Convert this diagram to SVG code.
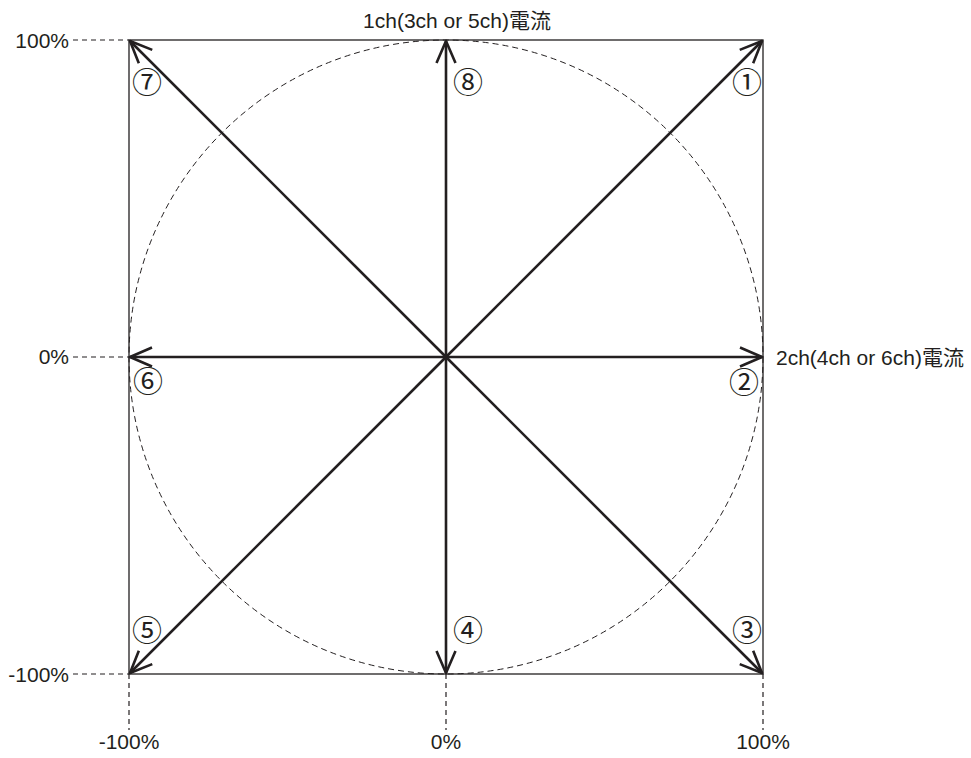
<svg xmlns="http://www.w3.org/2000/svg" width="971" height="758" viewBox="0 0 971 758">
<style>
.lbl{font-family:"Liberation Sans","Noto Sans CJK JP",Arial,sans-serif;font-size:21px;fill:#231f20}
.num{font-family:"Noto Sans CJK JP","DejaVu Sans",sans-serif;font-size:30px;fill:#231f20;text-anchor:middle;dominant-baseline:central}
.lead{stroke:#231f20;stroke-width:1.2;stroke-dasharray:5,4;fill:none}
.arr{stroke:#231f20;stroke-width:2.6;fill:none;marker-end:url(#ah)}
</style>
<defs>
<marker id="ah" markerUnits="userSpaceOnUse" markerWidth="40" markerHeight="40" refX="0" refY="0" viewBox="-30 -20 40 40" orient="auto" overflow="visible">
<path d="M-22,-9.5 L0,0 L-22,9.5" fill="none" stroke="#231f20" stroke-width="2.6" stroke-linejoin="round" stroke-linecap="butt"/>
</marker>
</defs>
<rect width="971" height="758" fill="#fff"/>
<g id="frame">
<rect x="129" y="40" width="634" height="634" fill="none" stroke="#231f20" stroke-width="1.3"/>
<circle cx="446" cy="357" r="317" fill="none" stroke="#231f20" stroke-width="1" stroke-dasharray="6,4"/>
</g>
<g id="leaders">
<line class="lead" x1="73" y1="40" x2="129" y2="40"/>
<line class="lead" x1="73" y1="357" x2="129" y2="357"/>
<line class="lead" x1="73" y1="674" x2="129" y2="674"/>
<line class="lead" x1="129" y1="674" x2="129" y2="730"/>
<line class="lead" x1="446" y1="674" x2="446" y2="730"/>
<line class="lead" x1="763" y1="674" x2="763" y2="730"/>
</g>
<g id="connectors">
<line class="arr" x1="446" y1="357" x2="762" y2="41"/>
<line class="arr" x1="446" y1="357" x2="762" y2="357"/>
<line class="arr" x1="446" y1="357" x2="762" y2="673"/>
<line class="arr" x1="446" y1="357" x2="446" y2="673"/>
<line class="arr" x1="446" y1="357" x2="130" y2="673"/>
<line class="arr" x1="446" y1="357" x2="130" y2="357"/>
<line class="arr" x1="446" y1="357" x2="130" y2="41"/>
<line class="arr" x1="446" y1="357" x2="446" y2="41"/>
</g>
<g id="n1"><text class="num" x="747" y="80">①</text></g>
<g id="n2"><text class="num" x="744" y="380">②</text></g>
<g id="n3"><text class="num" x="747" y="628">③</text></g>
<g id="n4"><text class="num" x="468" y="628">④</text></g>
<g id="n5"><text class="num" x="147" y="628">⑤</text></g>
<g id="n6"><text class="num" x="148" y="379">⑥</text></g>
<g id="n7"><text class="num" x="147" y="80">⑦</text></g>
<g id="n8"><text class="num" x="468" y="80">⑧</text></g>
<g id="axis-labels">
<text class="lbl" x="457" y="28" text-anchor="middle">1ch(3ch or 5ch)電流</text>
<text class="lbl" x="776" y="365">2ch(4ch or 6ch)電流</text>
<text class="lbl" x="69" y="48" text-anchor="end">100%</text>
<text class="lbl" x="69" y="364" text-anchor="end">0%</text>
<text class="lbl" x="69" y="682" text-anchor="end">-100%</text>
<text class="lbl" x="129" y="749" text-anchor="middle">-100%</text>
<text class="lbl" x="446" y="749" text-anchor="middle">0%</text>
<text class="lbl" x="763" y="749" text-anchor="middle">100%</text>
</g>
</svg>
